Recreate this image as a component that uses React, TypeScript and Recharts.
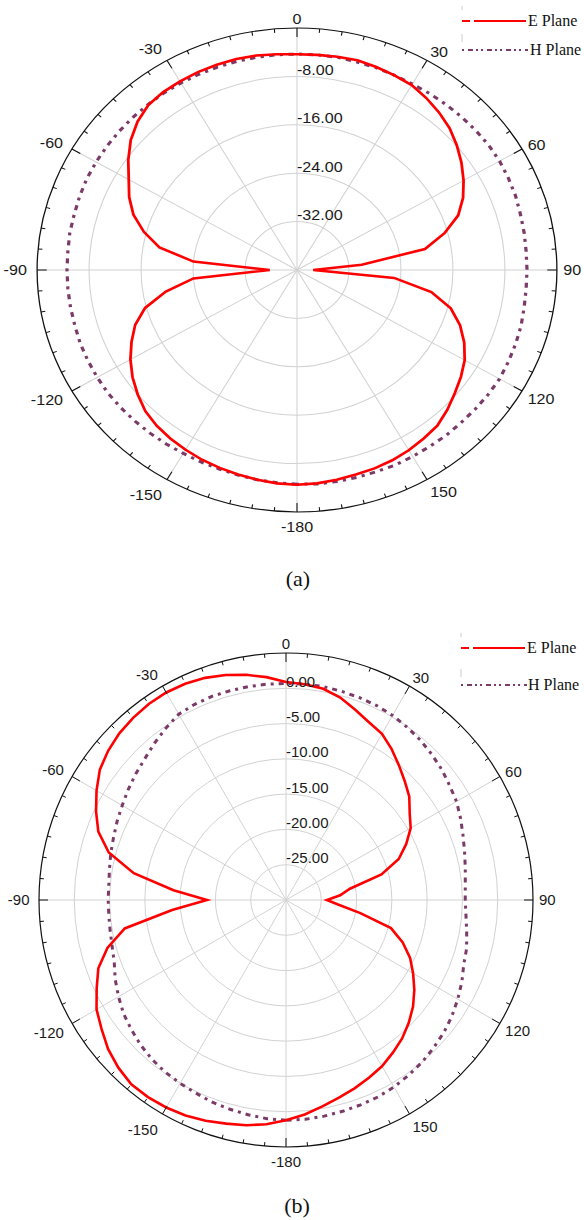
import { RadarChart, Radar, PolarGrid, PolarAngleAxis, PolarRadiusAxis } from "recharts";

// angles in degrees, 0 = top, clockwise positive
const ANGLES = [
  -180, -175, -170, -165, -160, -155, -150, -145, -140, -135, -130, -125, -120,
  -115, -110, -105, -100, -95, -90, -85, -80, -75, -70, -65, -60, -55, -50, -45,
  -40, -35, -30, -25, -20, -15, -10, -5, 0, 5, 10, 15, 20, 25, 30, 35, 40, 45, 50,
  55, 60, 65, 70, 75, 80, 85, 90, 95, 100, 105, 110, 115, 120, 125, 130, 135, 140,
  145, 150, 155, 160, 165, 170, 175, 180,
];

const SPOKES = [-180, -150, -120, -90, -60, -30, 0, 30, 60, 90, 120, 150];

// (a) gain in dB
const E_PLANE_A = [
  -4.5, -4.6, -4.8, -5.0, -5.2, -5.4, -5.7, -6.0, -6.4, -7.0, -8.0, -9.1, -10.4,
  -11.9, -13.5, -15.8, -19.5, -24.0, -35.8, -24.0, -18.5, -15.6, -13.2, -11.5,
  -10.1, -8.3, -6.6, -5.3, -4.4, -4.1, -4.0, -3.9, -3.9, -3.9, -4.0, -4.2, -4.35,
  -4.3, -4.2, -4.1, -4.3, -4.5, -4.7, -5.3, -6.0, -6.8, -7.9, -9.1, -10.4, -11.8,
  -13.6, -16.5, -20.0, -30.0, -37.5, -25.0, -19.0, -15.5, -13.3, -11.6, -10.2,
  -9.2, -8.3, -7.3, -6.4, -6.0, -5.6, -5.3, -5.1, -5.0, -4.8, -4.6, -4.5,
];
const H_PLANE_A = [
  -4.6, -4.7, -4.8, -4.9, -5.0, -5.0, -5.0, -4.9, -4.8, -4.7, -4.6, -4.5, -4.5,
  -4.5, -4.5, -4.6, -4.6, -4.6, -4.6, -4.6, -4.5, -4.5, -4.4, -4.3, -4.3, -4.3,
  -4.3, -4.3, -4.3, -4.3, -4.3, -4.3, -4.3, -4.3, -4.3, -4.3, -4.3, -4.3, -4.3,
  -4.4, -4.4, -4.5, -4.5, -4.4, -4.3, -4.2, -4.1, -4.0, -4.0, -4.1, -4.2, -4.4,
  -4.5, -4.6, -4.6, -4.6, -4.5, -4.3, -4.2, -4.1, -4.0, -4.1, -4.2, -4.3, -4.3,
  -4.4, -4.4, -4.4, -4.5, -4.5, -4.5, -4.5, -4.6,
];
const R_TICKS_A = [-32, -24, -16, -8];
const R_DOMAIN_A = [-40, 0];

// (b) gain in dB
const E_PLANE_B = [
  1.2, 1.9, 2.4, 2.8, 3.3, 3.7, 3.95, 4.1, 4.1, 3.6, 2.9, 1.9, 1.0, -0.4, -1.7,
  -3.8, -6.8, -13.8, -18.8, -14.0, -8.1, -4.0, -1.7, -0.3, 1.0, 2.2, 2.9, 3.4,
  3.7, 3.9, 3.95, 3.8, 3.5, 3.0, 2.4, 1.7, 0.9, 0.7, 0.4, -0.3, -1.3, -2.2, -2.8,
  -3.9, -5.1, -6.2, -7.2, -8.6, -9.6, -11.2, -13.0, -16.0, -20.8, -22.3, -24.2,
  -22.6, -19.3, -14.6, -12.4, -10.6, -9.2, -7.8, -6.5, -5.4, -4.4, -3.6, -2.8,
  -2.2, -1.6, -1.0, -0.3, 0.5, 1.2,
];
const H_PLANE_B = [
  1.2, 1.1, 0.9, 0.7, 0.5, 0.2, 0.0, -0.2, -0.5, -0.9, -1.4, -1.9, -2.6, -3.3,
  -4.1, -4.5, -4.7, -4.8, -4.8, -4.8, -4.6, -4.3, -4.0, -3.6, -3.2, -2.7, -2.2,
  -1.7, -1.0, -0.3, 0.4, 0.6, 0.7, 0.7, 0.7, 0.7, 0.7, 0.7, 0.7, 0.6, 0.5, 0.4,
  0.2, -0.1, -0.4, -0.8, -1.2, -1.7, -2.1, -2.7, -3.3, -3.8, -4.2, -4.5, -4.6,
  -4.4, -4.0, -3.5, -3.2, -2.5, -1.9, -1.3, -0.8, -0.4, 0.0, 0.3, 0.6, 0.8, 0.9,
  1.0, 1.1, 1.2, 1.2,
];
const R_TICKS_B = [-25, -20, -15, -10, -5, 0];
const R_DOMAIN_B = [-30, 5];

const E_COLOR = "#ff0000";
const H_COLOR = "#7b3a68";
const H_DASH = "5 5 3 5";
const SANS = "'Liberation Sans', Arial, sans-serif";
const SERIF = "'Liberation Serif', 'Times New Roman', serif";

const tableA = ANGLES.map((angle, i) => ({ angle, e: E_PLANE_A[i], h: H_PLANE_A[i] }));
const tableB = ANGLES.map((angle, i) => ({ angle, e: E_PLANE_B[i], h: H_PLANE_B[i] }));

function PolarPattern({ data, width, height, cx, cy, radius, domain, rTicks }: any) {
  const angleTick = (props: any) => {
    const v = props.payload.value;
    const deg = typeof props.payload.coordinate === "number" ? props.payload.coordinate : 90 - v;
    const a = (deg * Math.PI) / 180;
    const ux = Math.cos(a);
    const uy = -Math.sin(a);
    const major = v % 30 === 0;
    const len = major ? 9 : 4;
    let label = null;
    if (major) {
      // anchor just outside the rim, text hangs away from the circle
      const side = Math.abs(ux) < 0.01 ? "middle" : ux > 0 ? "start" : "end";
      const gap = side === "end" ? 9.5 : 6;
      const px = cx + (radius + gap) * ux;
      const py = cy + (radius + gap) * uy;
      const shift = uy > 0 ? uy * 8.5 : uy * 3.5;
      label = (
        <text
          x={px}
          y={py + shift + 5.3}
          textAnchor={side}
          fontSize={15}
          fontFamily={SANS}
          fill="#1a1a1a"
        >
          {String(v)}
        </text>
      );
    }
    return (
      <g>
        <line
          x1={cx + radius * ux}
          y1={cy + radius * uy}
          x2={cx + (radius - len) * ux}
          y2={cy + (radius - len) * uy}
          stroke="#111"
          strokeWidth={1}
        />
        {label}
      </g>
    );
  };

  const radiusTick = (props: any) => (
    <text x={props.x} y={props.y - 1.5} textAnchor="start" fontSize={15} fontFamily={SANS} fill="#1a1a1a">
      {Number(props.payload.value).toFixed(2)}
    </text>
  );

  return (
    <RadarChart
      width={width}
      height={height}
      data={data}
      cx={cx}
      cy={cy}
      outerRadius={radius}
      startAngle={270}
      endAngle={-90}
      margin={{ top: 0, right: 0, bottom: 0, left: 0 }}
    >
      <PolarGrid gridType="circle" angleAxisId="grid" stroke="#d2d2d2" strokeWidth={1} />
      <PolarAngleAxis
        angleAxisId="grid"
        dataKey="angle"
        type="number"
        domain={[-180, 180]}
        ticks={SPOKES}
        tick={false}
        tickLine={false}
        axisLine={false}
      />
      <PolarAngleAxis
        dataKey="angle"
        type="number"
        domain={[-180, 180]}
        ticks={ANGLES.slice(0, -1)}
        axisLineType="circle"
        axisLine={{ stroke: "#111", strokeWidth: 1.2 }}
        tickLine={false}
        tick={angleTick}
      />
      <PolarRadiusAxis
        angle={90}
        type="number"
        domain={domain}
        ticks={rTicks}
        axisLine={false}
        tickLine={false}
        tick={radiusTick}
      />
      <Radar
        dataKey="h"
        stroke={H_COLOR}
        strokeWidth={3}
        strokeDasharray={H_DASH}
        fill="none"
        fillOpacity={0}
        dot={false}
        isAnimationActive={false}
      />
      <Radar
        dataKey="e"
        stroke={E_COLOR}
        strokeWidth={2.6}
        fill="none"
        fillOpacity={0}
        dot={false}
        isAnimationActive={false}
      />
    </RadarChart>
  );
}

function LegendBox({ x, y, gap, hShift }: any) {
  return (
    <g>
      <line x1={x} y1={y - 15} x2={x} y2={y - 11} stroke="#ccc" strokeWidth={1} />
      <line x1={x} y1={y} x2={x + 8} y2={y} stroke={E_COLOR} strokeWidth={2} />
      <line x1={x + 12} y1={y} x2={x + 64} y2={y} stroke={E_COLOR} strokeWidth={2} />
      <text x={x + 66} y={y + 5} fontSize={16} fontFamily={SERIF} fill="#111">
        E Plane
      </text>
      <line x1={x} y1={y + gap - 16} x2={x} y2={y + gap - 8} stroke="#ccc" strokeWidth={1} />
      <line
        x1={x}
        y1={y + gap}
        x2={x + 66}
        y2={y + gap}
        stroke={H_COLOR}
        strokeWidth={2}
        strokeDasharray="2 4 5 3 2 3"
      />
      <text x={x + 66 + hShift} y={y + gap + 5} fontSize={16} fontFamily={SERIF} fill="#111">
        H Plane
      </text>
    </g>
  );
}

export default function App() {
  return (
    <div
      style={{
        position: "absolute",
        left: 0,
        top: 0,
        width: 584,
        height: 1220,
        overflow: "hidden",
        background: "#fff",
      }}
    >
      <div
        style={{
          position: "absolute",
          left: 0,
          top: 0,
          width: 584,
          height: 560,
          transform: "scaleX(1.074)",
          transformOrigin: "297px 270px",
        }}
      >
        <PolarPattern
          data={tableA}
          width={584}
          height={560}
          cx={297}
          cy={270}
          radius={242}
          domain={R_DOMAIN_A}
          rTicks={R_TICKS_A}
        />
      </div>
      <div style={{ position: "absolute", left: 0, top: 630, width: 584, height: 580 }}>
        <PolarPattern
          data={tableB}
          width={584}
          height={580}
          cx={286}
          cy={270}
          radius={247}
          domain={R_DOMAIN_B}
          rTicks={R_TICKS_B}
        />
      </div>
      <svg
        width={584}
        height={1220}
        style={{ position: "absolute", left: 0, top: 0, pointerEvents: "none" }}
      >
        <LegendBox x={462} y={21} gap={29} hShift={2} />
        <LegendBox x={461} y={648} gap={37} hShift={1} />
        <text x={298} y={586} textAnchor="middle" fontSize={22} fontFamily={SERIF} fill="#111">
          (a)
        </text>
        <text x={297} y={1213} textAnchor="middle" fontSize={22} fontFamily={SERIF} fill="#111">
          (b)
        </text>
      </svg>
    </div>
  );
}
